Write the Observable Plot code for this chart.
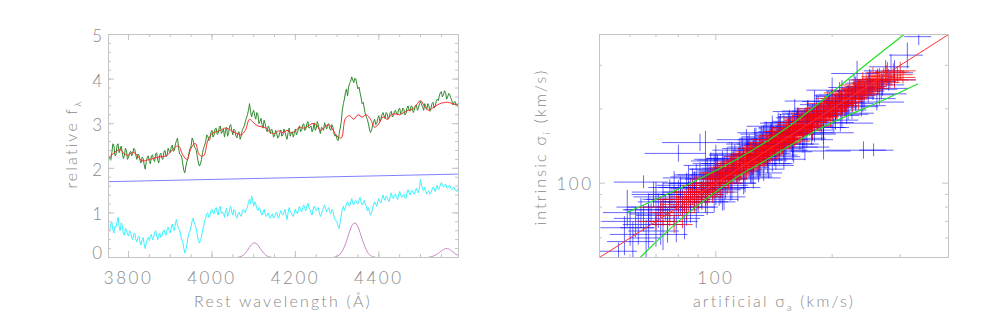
<!DOCTYPE html>
<html>
<head>
<meta charset="utf-8">
<script src="https://cdn.jsdelivr.net/npm/d3@7"></script>
<script src="https://cdn.jsdelivr.net/npm/@observablehq/plot@0.6"></script>
<style>
  html, body { margin: 0; padding: 0; background: #fff; }
  #wrap { position: relative; width: 981px; height: 327px; overflow: hidden; background: #fff; }
  #left, #right { position: absolute; top: 0; }
  #left { left: 0; }
  #right { left: 490px; }
</style>
</head>
<body>
<div id="wrap"><div id="left"></div><div id="right"></div></div>
<script>
// ---------------- LEFT PANEL DATA ----------------
const wlStart = 3750, wlStep = 2.5;            // sampling grid of the spectra (Å)
const observedFlux = [
  1.95,2.22,2.25,2.18,2.35,2.55,2.50,2.28,2.30,2.52,2.55,2.35,2.42,2.50,2.35,2.22,2.28,2.45,2.40,2.20,
  2.25,2.35,2.38,2.28,2.32,2.45,2.42,2.30,2.20,2.32,2.30,2.18,2.12,2.25,2.22,2.08,1.98,2.15,2.25,2.28,
  2.15,2.10,2.28,2.30,2.20,2.15,2.32,2.35,2.18,2.12,2.30,2.34,2.22,2.20,2.38,2.40,2.26,2.30,2.45,2.38,
  2.35,2.48,2.52,2.38,2.40,2.55,2.62,2.68,2.45,2.32,2.30,2.25,2.10,1.95,1.90,2.05,2.15,2.22,2.35,2.45,
  2.50,2.68,2.62,2.50,2.45,2.40,2.25,2.12,2.05,2.10,2.20,2.35,2.45,2.52,2.60,2.75,2.72,2.62,2.65,2.80,
  2.85,2.70,2.75,2.88,2.90,2.76,2.78,2.92,2.95,2.78,2.82,2.88,2.70,2.85,2.92,2.72,2.80,2.95,2.98,2.85,
  2.75,2.88,2.85,2.72,2.68,2.80,2.82,2.65,2.72,2.85,2.90,2.95,3.05,3.12,3.20,3.30,3.45,3.28,3.15,3.25,
  3.30,3.18,3.10,3.25,3.22,3.00,3.05,3.12,2.98,2.90,3.08,3.00,2.88,2.82,2.95,2.90,2.78,2.88,2.85,2.70,
  2.72,2.85,2.80,2.68,2.70,2.80,2.86,2.72,2.75,2.88,2.82,2.72,2.65,2.80,2.90,2.72,2.78,2.82,2.70,2.78,
  2.88,2.75,2.80,2.90,2.95,2.82,2.85,2.98,3.00,2.85,2.88,3.00,3.05,2.90,2.92,2.95,2.82,2.88,3.02,2.85,
  2.90,3.05,2.98,2.85,2.78,2.92,2.90,2.85,3.02,2.95,2.88,2.98,3.00,2.88,2.85,2.98,2.92,2.78,2.72,2.75,
  2.65,2.62,2.78,2.90,3.05,3.30,3.45,3.55,3.70,3.78,3.62,3.82,3.90,3.95,4.05,3.98,3.92,4.02,4.00,3.88,
  3.78,3.82,3.70,3.58,3.45,3.48,3.35,3.22,3.15,3.10,3.00,2.88,2.80,2.85,2.95,3.05,3.10,2.98,3.00,3.12,
  3.18,3.05,3.10,3.20,3.25,3.18,3.12,3.25,3.22,3.10,3.15,3.25,3.28,3.15,3.18,3.28,3.30,3.22,3.20,3.32,
  3.35,3.22,3.25,3.35,3.32,3.20,3.22,3.35,3.40,3.30,3.28,3.40,3.38,3.25,3.30,3.40,3.42,3.30,3.35,3.45,
  3.50,3.42,3.38,3.30,3.45,3.38,3.32,3.45,3.40,3.28,3.35,3.45,3.48,3.35,3.38,3.50,3.55,3.52,3.62,3.70,
  3.72,3.60,3.65,3.74,3.70,3.55,3.60,3.68,3.65,3.58,3.52,3.42,3.48,3.50,3.42,3.45,3.38
];
const hostFlux = [
  0.45,0.58,0.62,0.75,0.80,0.62,0.55,0.70,0.68,0.80,0.90,0.70,0.60,0.78,0.72,0.55,0.50,0.65,0.62,0.52,
  0.48,0.60,0.58,0.45,0.40,0.52,0.55,0.40,0.35,0.45,0.48,0.35,0.28,0.40,0.45,0.30,0.20,0.32,0.42,0.45,
  0.38,0.48,0.52,0.40,0.45,0.55,0.60,0.50,0.40,0.50,0.55,0.45,0.48,0.58,0.62,0.55,0.50,0.62,0.68,0.60,
  0.55,0.68,0.75,0.65,0.60,0.78,0.85,0.72,0.65,0.62,0.50,0.40,0.35,0.20,0.10,0.18,0.30,0.45,0.55,0.60,
  0.70,0.82,0.88,0.78,0.72,0.65,0.50,0.38,0.32,0.40,0.45,0.62,0.70,0.82,0.88,0.98,1.00,0.90,0.92,1.05,
  1.08,1.00,0.98,1.08,1.12,1.02,0.95,1.10,1.15,0.98,1.02,1.00,0.90,1.05,1.10,0.92,0.98,1.08,1.15,1.02,
  0.95,1.08,1.05,0.92,0.88,0.98,1.02,0.95,0.92,1.02,1.08,1.05,1.00,1.10,1.12,1.25,1.30,1.20,1.38,1.28,
  1.15,1.25,1.20,1.10,1.05,1.12,1.10,1.00,0.95,1.02,1.08,0.98,0.92,0.95,1.00,0.92,0.88,0.95,0.98,0.88,
  0.90,0.98,1.02,0.92,0.88,0.98,1.05,0.98,0.95,1.02,1.08,0.95,0.85,1.00,1.12,1.05,1.00,0.95,0.92,1.02,
  1.08,1.02,0.98,1.08,1.15,1.05,1.02,1.12,1.18,1.10,1.05,1.15,1.22,1.12,1.08,1.00,0.95,1.08,1.15,1.10,
  1.05,1.10,1.12,1.00,0.92,0.98,1.05,1.12,1.18,1.08,1.02,1.08,1.12,1.02,0.98,1.08,1.05,0.92,0.85,0.82,
  0.78,0.70,0.65,0.80,0.95,1.08,1.15,1.05,1.12,1.20,1.25,1.18,1.15,1.25,1.32,1.22,1.18,1.25,1.28,1.22,
  1.20,1.28,1.35,1.25,1.18,1.22,1.28,1.20,1.15,1.05,1.12,1.02,0.95,1.00,1.10,1.18,1.25,1.20,1.15,1.25,
  1.32,1.25,1.22,1.32,1.40,1.32,1.28,1.38,1.35,1.28,1.25,1.38,1.45,1.35,1.32,1.40,1.42,1.35,1.30,1.40,
  1.48,1.40,1.35,1.38,1.42,1.35,1.32,1.45,1.52,1.45,1.40,1.48,1.50,1.45,1.42,1.50,1.55,1.48,1.45,1.58,
  1.75,1.62,1.52,1.50,1.58,1.48,1.42,1.48,1.50,1.42,1.45,1.52,1.58,1.55,1.48,1.55,1.62,1.52,1.55,1.62,
  1.68,1.62,1.58,1.60,1.65,1.58,1.55,1.60,1.62,1.55,1.52,1.55,1.58,1.52,1.50,1.48,1.55
];
const modelStart = 3750, modelStep = 10;
const modelFlux = [
  2.22,2.30,2.38,2.42,2.32,2.30,2.36,2.30,2.18,2.17,
  2.20,2.22,2.25,2.26,2.28,2.36,2.46,2.50,2.30,2.20,
  2.45,2.56,2.30,2.28,2.62,2.78,2.82,2.85,2.90,2.88,
  2.82,2.78,2.75,2.85,3.10,3.02,2.95,2.93,2.90,2.80,
  2.78,2.84,2.80,2.85,2.80,2.84,2.92,2.90,2.95,3.00,
  2.98,2.85,2.92,2.98,2.86,2.72,2.68,3.12,3.18,3.10,
  3.20,3.15,3.20,3.10,2.92,3.00,3.15,3.10,3.20,3.22,
  3.20,3.25,3.30,3.32,3.42,3.52,3.38,3.30,3.36,3.42,
  3.46,3.48,3.47,3.44,3.40
];
const powerLawWl = [3750, 4170, 4590];
const powerLawFlux = [1.70, 1.785, 1.87];
const lineWl = [3750,4060,4065,4070,4075,4080,4085,4090,4095,4100,4105,4110,4115,4120,4125,4130,4135,4140,4145,
  4290,4295,4300,4305,4310,4315,4320,4325,4330,4335,4340,4345,4350,4355,4360,4365,4370,4375,4380,4385,4390,4395,
  4515,4520,4525,4530,4535,4540,4545,4550,4555,4560,4565,4570,4575,4580,4585,4590];
const lineFlux = [0,0,0.01,0.024,0.05,0.096,0.16,0.23,0.29,0.33,0.32,0.28,0.21,0.145,0.086,0.045,0.02,0.008,0,
  0,0.01,0.025,0.054,0.105,0.19,0.30,0.44,0.59,0.71,0.77,0.77,0.69,0.56,0.41,0.28,0.17,0.09,0.046,0.02,0.008,0,
  0,0.005,0.015,0.03,0.05,0.08,0.11,0.15,0.18,0.20,0.20,0.18,0.14,0.11,0.07,0.05];
const xTicksLeft = [3800, 4000, 4200, 4400];
const yTicksLeft = [0, 1, 2, 3, 4, 5];

// ---------------- RIGHT PANEL DATA ----------------
// [sigma_artificial, sigma_intrinsic, x error %, y error %]
const blueCrosses = [
  [56,53,12,8],[58,62,8,18],[59,80,6,17],[61,58,14,20],[63,66,10,15],[65,72,16,12],[65,101,16,6],[66,60,9,18],
  [68,75,12,10],[70,64,15,14],[70,84,10,20],[72,70,8,20],[74,80,12,12],[75,68,10,16],[77,86,14,9],[78,74,20,10],
  [80,90,10,14],[80,132,18,8],[80,78,12,8],[82,84,16,12],[83,72,10,18],[85,92,14,10],[85,105,14,12],[86,80,18,14],
  [88,88,10,12],[88,96,12,16],[90,84,20,10],[91,146,20,8],[92,90,14,12],[93,100,18,10],[94,123,8,32],[95,88,10,16],
  [96,104,16,14],[98,95,22,10],[99,110,12,18],[100,92,14,12],[100,125,12,14],[102,106,10,10],[103,98,18,16],[105,115,12,12],
  [105,88,14,12],[106,100,20,14],[108,112,15,10],[110,104,10,18],[111,120,16,12],[113,108,24,8],[115,118,12,14],[116,126,18,12],
  [118,112,10,20],[120,122,14,10],[120,150,16,10],[121,132,20,12],[123,116,12,14],[125,128,16,16],[125,105,18,10],[127,138,10,10],
  [128,120,22,12],[130,130,14,18],[132,142,12,12],[134,126,18,10],[136,136,10,14],[138,148,16,12],[140,132,12,16],[140,170,14,10],
  [142,144,20,12],[144,156,12,10],[145,175,10,10],[146,138,16,14],[148,150,10,12],[150,162,14,16],[150,125,14,10],[152,144,22,10],
  [154,158,12,12],[156,170,16,10],[158,150,10,18],[160,164,18,12],[160,195,12,12],[162,176,12,10],[165,158,14,14],[167,172,20,12],
  [170,182,10,10],[170,140,16,12],[172,164,16,16],[175,178,12,12],[178,190,18,10],[180,170,12,14],[180,215,16,10],[183,186,14,12],
  [186,196,20,10],[190,180,10,16],[190,135,18,8],[190,160,20,10],[193,194,16,12],[196,206,12,10],[200,188,18,14],[200,238,14,12],
  [204,202,14,12],[208,216,10,10],[210,175,22,8],[212,198,16,16],[216,212,12,12],[220,226,18,10],[225,210,14,14],[230,222,12,12],
  [232,278,14,12],[236,236,16,10],[241,136,20,8],[256,136,8,6],[242,228,20,12],[248,246,12,14],[255,240,16,10],[261,213,18,8],
  [262,258,12,12],[270,250,14,10],[280,262,18,10],[290,280,12,12],[313,330,10,12],[335,392,8,8],
  [62,70,18,14],[67,78,14,16],[69,90,12,12],[73,62,16,14],[76,92,20,12],[79,70,14,18],[81,96,12,10],[84,76,18,12],
  [87,100,16,14],[89,80,12,18],[91,108,14,12],[94,84,20,10],[97,114,12,16],[99,86,16,12],[101,118,18,10],[104,94,12,18],
  [107,124,16,12],[109,96,20,12],[112,130,14,10],[114,100,12,16],[117,136,16,12],[119,106,18,14],[122,140,12,12],[124,110,20,10],
  [126,146,14,14],[129,114,16,12],[131,152,12,10],[133,118,20,14],[135,158,14,12],[137,124,12,16],[139,160,18,10],[143,128,16,12],
  [147,166,12,14],[151,134,18,10],[155,176,14,12],[159,140,16,14],[163,184,12,10],[168,150,20,12],[173,192,14,12],[177,158,16,10],
  [182,200,12,14],[188,168,18,12],[195,214,14,10],[202,180,16,12],[209,228,12,12],[218,192,18,10],[228,244,14,12],[238,206,16,10],
  [250,262,12,10],[265,230,18,10],[275,285,12,10],
  [60,66,16,16],[64,76,20,14],[67,68,14,20],[71,78,18,16],[73,88,16,14],[76,80,22,12],[78,96,14,16],[81,86,20,14],
  [84,98,16,12],[86,90,22,16],[89,106,14,12],[92,96,20,14],[95,108,16,16],[97,100,22,12],[100,114,14,14],[102,96,20,16],
  [104,120,16,12],[107,104,22,14],[110,126,14,16],[112,112,20,12],[115,130,16,14],[118,120,22,16],[121,138,14,12],[124,124,20,14],
  [127,144,16,16],[130,120,22,12],[133,150,14,14],[136,130,20,16],[139,154,16,12],[142,136,22,14],[146,160,14,16],[150,144,20,12],
  [154,168,16,14],[158,152,22,16],[163,178,14,12],[168,160,20,14],[173,186,16,16],[178,168,22,12],[184,196,14,14],[190,176,20,16],
  [197,208,16,12],[204,190,22,14],[212,224,14,16],[220,204,20,12],[230,236,16,14],[240,220,22,12],[252,254,14,12],[268,242,18,10],
  [284,296,12,12]
];
const redCrosses = [
  [70,70,10,8],[73,76,8,12],[76,74,8,10],[78,68,12,8],[80,82,10,8],[82,76,8,14],[84,80,8,12],[86,88,12,8],
  [88,84,10,10],[90,86,6,10],[92,94,10,8],[94,90,12,10],[95,92,8,12],[97,100,12,8],[99,96,10,10],[100,98,8,10],
  [102,104,10,12],[104,108,8,8],[105,102,6,8],[107,110,10,10],[108,104,12,8],[110,106,8,12],[112,116,12,8],[114,110,8,10],
  [115,112,8,10],[117,120,10,8],[118,114,12,12],[120,118,6,12],[122,126,10,10],[124,120,8,10],[125,122,8,8],[127,130,12,12],
  [129,124,10,8],[130,128,8,10],[132,136,10,8],[134,130,12,10],[135,132,6,12],[137,140,10,10],[139,134,8,8],[140,138,8,8],
  [142,146,12,10],[144,140,10,12],[145,142,8,12],[147,150,10,8],[149,146,12,10],[150,148,6,10],[152,156,10,12],[155,152,8,8],
  [157,148,12,10],[158,160,12,10],[160,158,8,12],[163,166,10,8],[166,162,6,10],[168,170,10,12],[171,168,8,8],[174,176,12,10],
  [177,172,8,12],[180,182,10,8],[184,180,6,10],[187,190,10,12],[190,186,8,8],[194,196,12,10],[198,192,8,12],[202,204,10,8],
  [206,200,6,10],[210,212,10,12],[215,210,8,8],[220,222,12,10],[226,220,8,12],[232,234,10,8],[238,232,8,10],[245,246,12,12],
  [252,244,8,8],[260,258,10,10],[268,262,12,8],[276,272,10,10],[282,262,12,8],[295,275,10,8],[305,268,8,6],
  [72,80,12,10],[75,70,10,12],[79,86,12,10],[83,84,10,10],[87,92,12,12],[91,90,10,8],[93,98,12,10],[96,94,10,12],
  [98,104,12,8],[101,100,10,12],[103,110,12,10],[106,106,10,8],[109,114,12,12],[111,110,10,10],[113,120,12,8],[116,116,10,12],
  [119,124,12,10],[121,120,10,8],[123,130,12,12],[126,126,10,10],[128,134,12,8],[131,132,10,12],[133,140,12,10],[136,136,10,8],
  [138,146,12,12],[141,142,10,10],[143,150,12,8],[146,146,10,12],[148,156,12,10],[151,152,10,8],[154,162,12,12],[156,156,10,10],
  [159,166,12,8],[162,162,10,12],[165,172,12,10],[169,166,10,8],[172,180,12,12],[176,176,10,10],[179,188,12,8],[183,184,10,12],
  [188,196,12,10],[192,190,10,8],[197,202,12,12],[201,196,10,10],[207,210,12,8],[212,206,10,12],[218,218,12,10],[224,228,10,8],
  [230,226,12,12],[236,240,10,10],[243,238,12,8],[250,254,10,12],[258,250,12,10],[265,270,10,8],[272,266,12,10],[288,282,10,8],
  [85,86,14,12],[89,92,12,14],[92,88,14,12],[95,98,12,14],[98,92,14,10],[100,106,12,14],[103,100,14,12],[105,110,12,10],
  [108,108,14,14],[110,116,12,12],[113,112,14,10],[115,122,12,14],[118,118,14,12],[120,128,12,10],[122,122,14,14],[125,132,12,12],
  [127,126,14,10],[130,138,12,14],[132,132,14,12],[135,142,12,10],[138,138,14,14],[140,150,12,12],[143,144,14,10],[146,154,12,14],
  [149,150,14,12],[152,162,12,10],[155,158,14,14],[158,168,12,12],[161,164,14,10],[164,176,12,14],[168,172,14,12],[171,184,12,10],
  [175,180,14,14],[178,170,12,12],[182,192,14,10],[186,186,12,14],[191,200,14,12],[196,196,12,10],[200,210,14,14],[205,206,12,12],
  [211,220,14,10],[216,214,12,14],[222,232,14,12],[228,236,12,10],[234,230,14,14],[240,250,12,12],[247,242,14,10],[255,262,12,12],
  [263,256,14,10],[278,280,12,10],[290,262,14,8],[300,285,10,8]
];
const oneToOne = [50, 400];
const upperBandX = [59.4, 91.1, 132.8, 175.4, 231.7, 307, 330];
const upperBandY = [76.5, 104.4, 144.8, 197.4, 282.2, 400, 440];
const lowerBandX = [59.4, 63.7, 82.5, 113.4, 130.3, 182.5, 250, 333];
const lowerBandY = [46, 50, 73.0, 106, 120.1, 163.8, 205, 252];
const xTicksRight = [100];
const yTicksRight = [100];
const logMinor = [50, 60, 70, 80, 90, 200, 300, 400];

// ---------------- STYLE ----------------
const textColor = "#8a8a8a";
const frameColor = "#c4c4c4";
const fontFamily = "Lato, 'DejaVu Sans', sans-serif";
const baseStyle = {fontFamily, fontSize: "17px", color: textColor, background: "white", letterSpacing: "2.5px", fontWeight: 300};

function boxTicks(xMajor, xMinor, yMajor, yMinor, fw, fh) {
  const M = 6, m = 3;
  return [
    Plot.ruleX(xMajor, {stroke: frameColor, insetTop: fh - M}),
    Plot.ruleX(xMajor, {stroke: frameColor, insetBottom: fh - M}),
    Plot.ruleX(xMinor, {stroke: frameColor, insetTop: fh - m}),
    Plot.ruleX(xMinor, {stroke: frameColor, insetBottom: fh - m}),
    Plot.ruleY(yMajor, {stroke: frameColor, insetRight: fw - M}),
    Plot.ruleY(yMajor, {stroke: frameColor, insetLeft: fw - M}),
    Plot.ruleY(yMinor, {stroke: frameColor, insetRight: fw - m}),
    Plot.ruleY(yMinor, {stroke: frameColor, insetLeft: fw - m}),
    Plot.frame({stroke: frameColor})
  ];
}

function addTitle(svg, x, y, rot, parts) {
  const t = d3.select(svg).append("text")
    .attr("transform", `translate(${x},${y}) rotate(${rot})`)
    .attr("text-anchor", "middle")
    .attr("font-size", 16)
    .attr("fill", textColor)
    .attr("font-family", fontFamily)
    .attr("letter-spacing", "2.2px");
  let shift = 0;
  for (const p of parts) {
    const s = t.append("tspan").text(p.text);
    if (p.sub) { s.attr("font-size", 10).attr("dy", 4); shift = 4; }
    else if (shift) { s.attr("dy", -shift); shift = 0; }
  }
}

// ---------------- LEFT PANEL ----------------
const obsData = observedFlux.map((v, i) => ({wl: wlStart + i * wlStep, v}));
const hostData = hostFlux.map((v, i) => ({wl: wlStart + i * wlStep, v}));
const modelData = modelFlux.map((v, i) => ({wl: modelStart + i * modelStep, v}));
const plData = powerLawWl.map((wl, i) => ({wl, v: powerLawFlux[i]}));
const lineData = lineWl.map((wl, i) => ({wl, v: lineFlux[i]}));

const L = {w: 490, h: 327, ml: 108, mr: 32, mt: 34, mb: 70};
const left = Plot.plot({
  width: L.w, height: L.h,
  marginLeft: L.ml, marginRight: L.mr, marginTop: L.mt, marginBottom: L.mb,
  style: baseStyle,
  x: {domain: [3752, 4591]},
  y: {domain: [0, 5]},
  marks: [
    Plot.line(lineData, {x: "wl", y: "v", stroke: "#c98bc9", strokeWidth: 1, clip: true}),
    Plot.line(hostData, {x: "wl", y: "v", stroke: "#3cf2ff", strokeWidth: 1, clip: true}),
    Plot.line(plData, {x: "wl", y: "v", stroke: "#8080ff", strokeWidth: 1, clip: true}),
    Plot.line(obsData, {x: "wl", y: "v", stroke: "#2f8a2f", strokeWidth: 1, clip: true}),
    Plot.line(modelData, {x: "wl", y: "v", stroke: "#ff2a2a", strokeWidth: 1, curve: "catmull-rom", clip: true}),
    ...boxTicks(xTicksLeft, d3.range(3800, 4600, 50), yTicksLeft, d3.range(0, 5.01, 0.2), L.w - L.ml - L.mr, L.h - L.mt - L.mb),
    Plot.axisX(xTicksLeft, {tickSize: 0, tickPadding: 14, fontSize: 17, label: null, tickFormat: d => String(d)}),
    Plot.axisY([1, 2, 3, 4, 5], {tickSize: 0, tickPadding: 4, fontSize: 17, label: null, dy: 2, tickFormat: d => String(d)}),
    Plot.axisY([0], {tickSize: 0, tickPadding: 4, fontSize: 17, label: null, dy: -4, tickFormat: d => String(d)})
  ]
});
addTitle(left, 283, 307, 0, [{text: "Rest wavelength (Å)"}]);
addTitle(left, 77, 144, -90, [{text: "relative f"}, {text: "λ", sub: true}]);
document.getElementById("left").appendChild(left);

// ---------------- RIGHT PANEL ----------------
const toObj = a => ({x: a[0], y: a[1], ex: a[2] / 100, ey: a[3] / 100});
const blue = blueCrosses.map(toObj);
const red = redCrosses.map(toObj);
const upper = upperBandX.map((x, i) => ({x, y: upperBandY[i]}));
const lower = lowerBandX.map((x, i) => ({x, y: lowerBandY[i]}));

const R = {w: 491, h: 327, ml: 109, mr: 33, mt: 34, mb: 70};
const crossMarks = (data, color, op) => [
  Plot.ruleY(data, {y: "y", x1: d => d.x * (1 - d.ex), x2: d => d.x * (1 + d.ex), stroke: color, strokeOpacity: op, clip: true}),
  Plot.ruleX(data, {x: "x", y1: d => d.y * (1 - d.ey), y2: d => d.y * (1 + d.ey), stroke: color, strokeOpacity: op, clip: true})
];
const right = Plot.plot({
  width: R.w, height: R.h,
  marginLeft: R.ml, marginRight: R.mr, marginTop: R.mt, marginBottom: R.mb,
  style: baseStyle,
  x: {type: "log", domain: [50, 400]},
  y: {type: "log", domain: [50, 400]},
  marks: [
    ...crossMarks(blue, "#0000ff", 0.6),
    ...crossMarks(red, "#ff0000", 0.7),
    Plot.line(oneToOne, {x: d => d, y: d => d, stroke: "#ff3030", strokeWidth: 1, clip: true}),
    Plot.line(upper, {x: "x", y: "y", stroke: "#22e022", strokeWidth: 1.2, curve: "natural", clip: true}),
    Plot.line(lower, {x: "x", y: "y", stroke: "#22e022", strokeWidth: 1.2, curve: "natural", clip: true}),
    ...boxTicks(xTicksRight, logMinor, yTicksRight, logMinor, R.w - R.ml - R.mr, R.h - R.mt - R.mb),
    Plot.axisX(xTicksRight, {tickSize: 0, tickPadding: 14, fontSize: 17, label: null, tickFormat: d => String(d)}),
    Plot.axisY(yTicksRight, {tickSize: 0, tickPadding: 6, fontSize: 17, label: null, dy: 1, tickFormat: d => String(d)})
  ]
});
addTitle(right, 284, 307, 0, [{text: "artificial σ"}, {text: "a", sub: true}, {text: " (km/s)"}]);
addTitle(right, 56, 147, -90, [{text: "intrinsic σ"}, {text: "i", sub: true}, {text: " (km/s)"}]);
document.getElementById("right").appendChild(right);
</script>
</body>
</html>
